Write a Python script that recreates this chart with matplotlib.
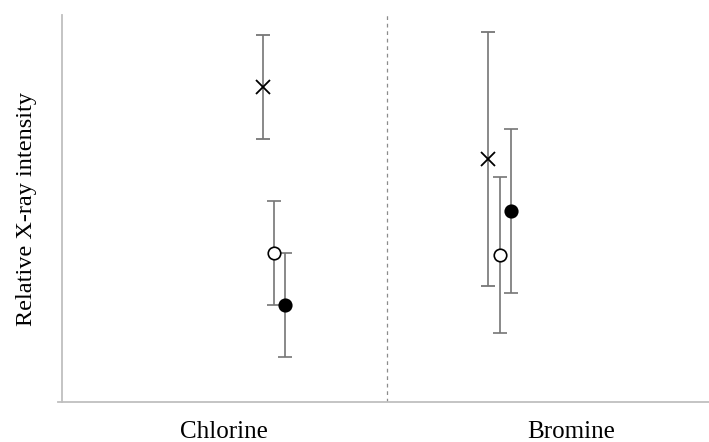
import matplotlib
matplotlib.use("Agg")
import matplotlib.pyplot as plt

plt.rcParams['font.family'] = ['Liberation Serif', 'DejaVu Serif']

categories = ["Chlorine", "Bromine"]
category_pos = [0.501, 1.573]

# x positions (category units), values and symmetric errors per series
cross_x = [0.621, 1.317]
cross_y = [0.814, 0.628]
cross_err = [0.135, 0.327]

open_x = [0.655, 1.354]
open_y = [0.385, 0.380]
open_err = [0.134, 0.201]

filled_x = [0.689, 1.388]
filled_y = [0.251, 0.494]
filled_err = [0.135, 0.212]

fig = plt.figure(figsize=(7.09, 4.42), dpi=100)
ax = fig.add_axes([0.0874, 0.0905, 0.9126, 0.8755])

ebar = dict(ecolor='#767676', elinewidth=1.2, capsize=5, capthick=1.2, linestyle='none')
ax.errorbar(cross_x, cross_y, yerr=cross_err, marker='x', ms=10, mew=1.3,
            color='black', zorder=3, **ebar)
ax.errorbar(open_x, open_y, yerr=open_err, marker='o', ms=9, mew=1.2,
            mfc='white', mec='black', zorder=3, **ebar)
ax.errorbar(filled_x, filled_y, yerr=filled_err, marker='o', ms=9, mew=1.2,
            mfc='black', mec='black', zorder=3, **ebar)

# separator between the two categories
ax.axvline(1.005, color='#8c8c8c', lw=0.9, ls=(0, (3, 3)), zorder=1)

ax.set_xlim(0, 2)
ax.set_ylim(0, 1)
ax.set_xticks(category_pos)
ax.set_xticklabels(categories, fontsize=18)
ax.set_yticks([])
ax.tick_params(axis='x', length=0, pad=14)
ax.set_ylabel("Relative X-ray intensity", fontsize=17.5, labelpad=18)

for s in ['top', 'right']:
    ax.spines[s].set_visible(False)
for s in ['left', 'bottom']:
    ax.spines[s].set_color('#bfbfbf')
    ax.spines[s].set_linewidth(1.3)
# small stub of the x axis to the left of the y axis
ax.plot([-0.012, 0], [0, 0], color='#bfbfbf', lw=1.3, clip_on=False)

fig.savefig("out.png", dpi=100)
